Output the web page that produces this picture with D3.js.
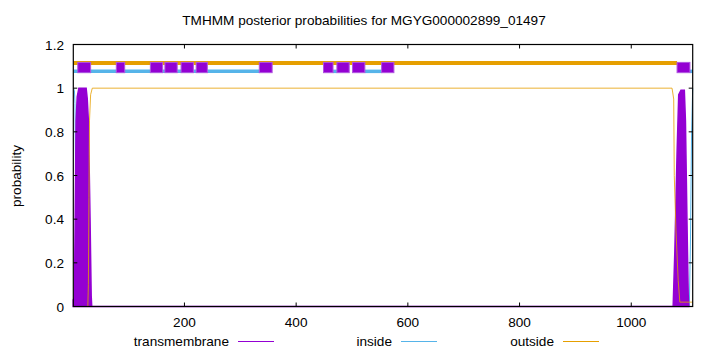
<!DOCTYPE html>
<html>
<head>
<meta charset="utf-8">
<script src="https://cdn.jsdelivr.net/npm/d3@7"></script>
<style>
  body { margin: 0; background: #fff; }
  svg { font-family: "Liberation Sans", Arial, sans-serif; }
</style>
</head>
<body>
<svg id="chart" width="720" height="352"></svg>
<script>
// posterior probabilities at breakpoints [residue, p]
const insideProb = [[1, 1], [3, 0.99], [4, 0.93], [5, 0.6], [6, 0.2], [7, 0.06], [9, 0.02], [12, 0],
  [1104, 0], [1106, 0.3], [1108, 0.8], [1110, 1]];
const outsideProb = [[1, 0], [27, 0], [28, 0.1], [29, 0.5], [30, 0.85], [32, 0.97], [35, 1],
  [1073, 1], [1076, 0.95], [1077, 0.6], [1080, 0.35], [1084, 0.12], [1087, 0.02], [1110, 0.02]];
const tmProb = [[1, 0.03], [3, 0.04], [4, 0.3], [6, 0.85], [8, 0.96], [11, 1], [24, 1], [26, 0.95],
  [28, 0.85], [31, 0.4], [33, 0.05], [34, 0],
  [1075, 0], [1078, 0.25], [1082, 0.7], [1085, 0.97], [1089, 0.99], [1095, 0.99], [1097, 0.85],
  [1100, 0.35], [1102, 0.05], [1103, 0]];

// predicted topology segments along the top
const tmSegments = [[9, 32], [78, 93], [139, 161], [165, 187], [194, 216], [221, 241], [334, 357],
  [449, 466], [473, 495], [501, 523], [553, 575], [1082, 1105]];
const insideSegments = [[1, 334], [466, 473], [523, 553], [1105, 1110]];
const outsideSegments = [[1, 1082]];

const xTicks = [200, 400, 600, 800, 1000];
const yTicks = [0, 0.2, 0.4, 0.6, 0.8, 1, 1.2];
const seqLength = 1110;

const colors = { tm: '#9400d3', inside: '#56b4e9', outside: '#e69f00' };
const fontSize = '13.6px';

const svg = d3.select('#chart');

const x = d3.scaleLinear().domain([1, seqLength]).range([73.3, 692.7]);
const y = d3.scaleLinear().domain([0, 1.2]).range([306.5, 44.5]);

// title
svg.append('text')
  .attr('x', 364)
  .attr('y', 25)
  .attr('text-anchor', 'middle')
  .style('font-size', fontSize)
  .text('TMHMM posterior probabilities for MGYG000002899_01497');

// y label
svg.append('text')
  .attr('transform', 'translate(21,176) rotate(-90)')
  .attr('text-anchor', 'middle')
  .style('font-size', fontSize)
  .text('probability');

const line = d3.line().x(d => x(d[0])).y(d => y(d[1]));

const plot = svg.append('g');

plot.append('path')
  .datum(insideProb)
  .attr('d', line)
  .attr('fill', 'none')
  .attr('stroke', colors.inside)
  .attr('stroke-width', 1);

plot.append('path')
  .datum(tmProb)
  .attr('d', d3.area().x(d => x(d[0])).y0(y(0)).y1(d => y(d[1])))
  .attr('fill', colors.tm)
  .attr('stroke', colors.tm)
  .attr('stroke-width', 1.5);

plot.append('path')
  .datum(outsideProb)
  .attr('d', line)
  .attr('fill', 'none')
  .attr('stroke', colors.outside)
  .attr('stroke-width', 1)
  .attr('opacity', 0.8);

// topology bars
plot.selectAll('.ins')
  .data(insideSegments)
  .join('line')
  .attr('x1', d => x(d[0]))
  .attr('x2', d => x(d[1]))
  .attr('y1', y(1.077))
  .attr('y2', y(1.077))
  .attr('stroke', colors.inside)
  .attr('stroke-width', 3.5);

plot.selectAll('.out')
  .data(outsideSegments)
  .join('line')
  .attr('x1', d => x(d[0]))
  .attr('x2', d => x(d[1]))
  .attr('y1', y(1.115))
  .attr('y2', y(1.115))
  .attr('stroke', colors.outside)
  .attr('stroke-width', 4);

plot.selectAll('.tm')
  .data(tmSegments)
  .join('rect')
  .attr('x', d => x(d[0]))
  .attr('width', d => x(d[1]) - x(d[0]))
  .attr('y', y(1.118))
  .attr('height', y(1.071) - y(1.118))
  .attr('fill', colors.tm)
  .attr('stroke', '#b055e0')
  .attr('stroke-width', 1);

// axes (gnuplot style, inward ticks mirrored)
const [x0, x1] = x.range();
const [yb, yt] = y.range();
const axes = svg.append('g').attr('stroke', '#000');

axes.selectAll('.xt')
  .data(xTicks)
  .join('path')
  .attr('d', d => `M${x(d)},${yb}v-4M${x(d)},${yt}v4`)
  .attr('stroke-width', 1);

axes.selectAll('.yt')
  .data(yTicks)
  .join('path')
  .attr('d', d => `M${x0},${y(d)}h4M${x1},${y(d)}h-4`)
  .attr('stroke-width', 1);

axes.append('rect')
  .attr('x', x0)
  .attr('y', yt)
  .attr('width', x1 - x0)
  .attr('height', yb - yt)
  .attr('fill', 'none')
  .attr('stroke-width', 1.2);

svg.append('g')
  .selectAll('text')
  .data(xTicks)
  .join('text')
  .attr('x', d => x(d))
  .attr('y', 327)
  .attr('text-anchor', 'middle')
  .style('font-size', fontSize)
  .text(d => d);

svg.append('g')
  .selectAll('text')
  .data(yTicks)
  .join('text')
  .attr('x', 64)
  .attr('y', d => y(d) + 5)
  .attr('text-anchor', 'end')
  .style('font-size', fontSize)
  .text(d => d);

// legend
const legend = [
  { label: 'transmembrane', color: colors.tm, end: 229 },
  { label: 'inside', color: colors.inside, end: 392 },
  { label: 'outside', color: colors.outside, end: 554 }
];

const lg = svg.append('g')
  .selectAll('g')
  .data(legend)
  .join('g');

lg.append('text')
  .attr('x', d => d.end)
  .attr('y', 346)
  .attr('text-anchor', 'end')
  .style('font-size', fontSize)
  .text(d => d.label);

lg.append('line')
  .attr('x1', d => d.end + 9)
  .attr('x2', d => d.end + 45)
  .attr('y1', 341.5)
  .attr('y2', 341.5)
  .attr('stroke', d => d.color)
  .attr('stroke-width', 1);
</script>
</body>
</html>
